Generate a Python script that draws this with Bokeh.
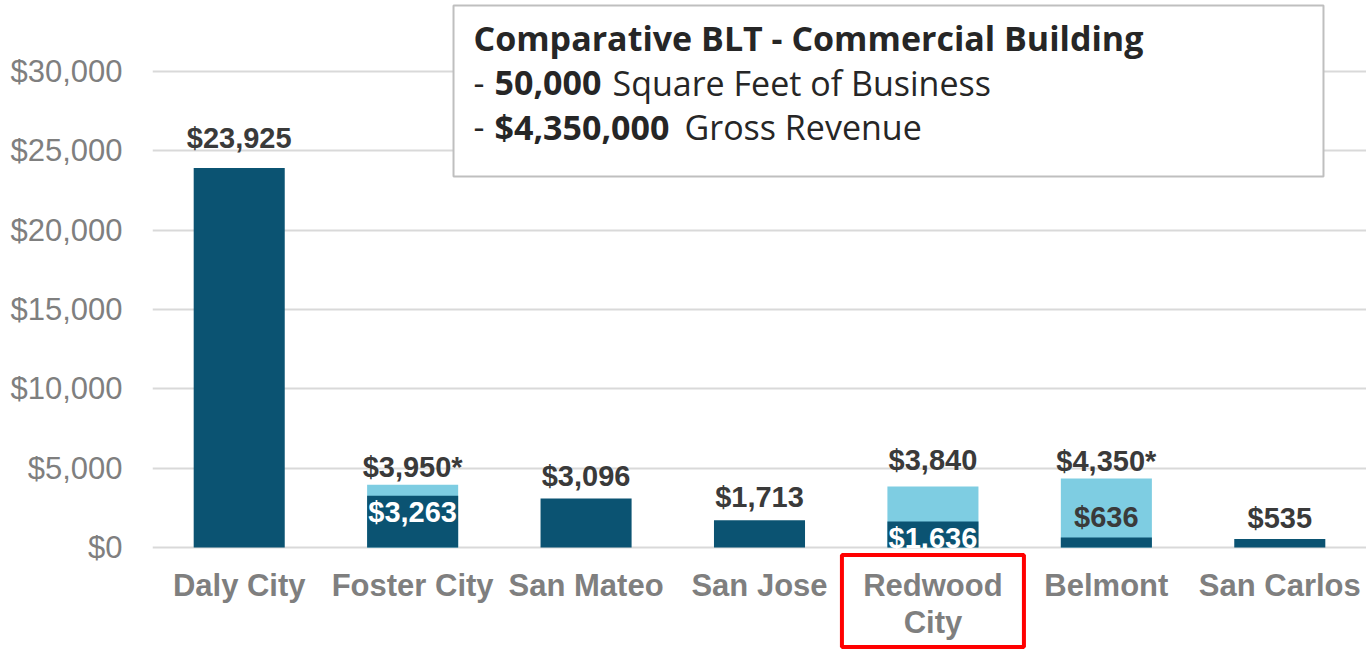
import math
from bokeh.plotting import figure
from bokeh.models import FactorRange, Range1d, FixedTicker, NumeralTickFormatter, ColumnDataSource
from bokeh.embed import file_html
from bokeh.resources import INLINE
from bokeh.core.properties import value

# ---------------- data ----------------
cities = ["Daly City", "Foster City", "San Mateo", "San Jose", "Redwood City", "Belmont", "San Carlos"]
city_labels = ["Daly City", "Foster City", "San Mateo", "San Jose", "Redwood\nCity", "Belmont", "San Carlos"]
base_tax = [23925, 3263, 3096, 1713, 1636, 636, 535]
total_tax = [math.nan, 3950, math.nan, math.nan, 3840, 4350, math.nan]
estimated = [False, True, False, False, False, True, False]
highlight_city = "Redwood City"
y_ticks = [0, 5000, 10000, 15000, 20000, 25000, 30000]

title_text = "Comparative BLT - Commercial Building"
area_sqft = "50,000"
area_text = "Square Feet of Business"
gross_revenue = "$4,350,000"
revenue_text = "Gross Revenue"

# ---------------- styles / layout ----------------
DARK = "#0b5372"
LIGHT = "#7ecde2"
GRID = "#d9d9d9"
AXIS_TXT = "#7f7f7f"
VAL_TXT = "#3a3a3a"
BOX_TXT = "#262626"
W, H = 1366, 651
LEFT = 152
PX = 79.33 / 5000                    # pixels per data unit
Y_START, Y_END = -104 / PX, 547 / PX
top_lift = [30, 18, 22, 23, 27, 17, 21]  # label centre above bar top (px)

p = figure(width=W, height=H, x_range=FactorRange(factors=cities),
           y_range=Range1d(Y_START, Y_END), output_backend="svg",
           toolbar_location=None, min_border_left=LEFT, min_border_right=0,
           min_border_top=0, min_border_bottom=0)
p.outline_line_color = None
p.background_fill_color = "white"
p.border_fill_color = "white"

p.xaxis.visible = False
p.xgrid.grid_line_color = None
p.yaxis.ticker = FixedTicker(ticks=y_ticks)
p.ygrid.ticker = FixedTicker(ticks=y_ticks)
p.ygrid.grid_line_color = GRID
p.ygrid.grid_line_width = 2
p.yaxis.formatter = NumeralTickFormatter(format="$0,0")
p.yaxis.axis_line_color = None
p.yaxis.major_tick_line_color = None
p.yaxis.minor_tick_line_color = None
p.yaxis.major_tick_out = 0
p.yaxis.major_label_standoff = 30
p.yaxis.major_label_text_font = "Liberation Sans"
p.yaxis.major_label_text_font_size = "31px"
p.yaxis.major_label_text_color = AXIS_TXT

# bars
src = ColumnDataSource(dict(city=cities, base=base_tax, total=total_tax))
p.vbar(x="city", top="total", bottom=0, width=0.525, source=src,
       fill_color=LIGHT, line_color=None)
p.vbar(x="city", top="base", bottom=0, width=0.525, source=src,
       fill_color=DARK, line_color=None)

# top value labels
tops, ttext = [], []
for b, t, e in zip(base_tax, total_tax, estimated):
    v = b if math.isnan(t) else t
    tops.append(v)
    ttext.append(f"${v:,.0f}" + ("*" if e else ""))
p.text(x=cities, y=tops, text=ttext, y_offset=[-l for l in top_lift],
       text_align="center", text_baseline="middle",
       text_font=value("Liberation Sans"), text_font_style="bold",
       text_font_size="29px", text_color=VAL_TXT)

# inner labels for overlapping bars
ix, iy, itext, ioff, icol = [], [], [], [], []
for c, b, t in zip(cities, base_tax, total_tax):
    if math.isnan(t):
        continue
    ix.append(c); iy.append(b); itext.append(f"${b:,.0f}")
    if b / t > 0.3:
        ioff.append(16); icol.append("white")
    else:
        ioff.append(-20); icol.append(VAL_TXT)
p.text(x=ix, y=iy, text=itext, y_offset=ioff, text_color=icol,
       text_align="center", text_baseline="middle",
       text_font=value("Liberation Sans"), text_font_style="bold",
       text_font_size="29px")

# category labels
p.text(x=cities, y=[0] * len(cities), text=city_labels, y_offset=20,
       text_align="center", text_baseline="top", text_line_height=1.06,
       text_font=value("Liberation Sans"), text_font_style="bold",
       text_font_size="31px", text_color=AXIS_TXT)

# highlight box
p.rect(x=[highlight_city], y=[-53.5 / PX], width=182, height=92,
       width_units="screen", height_units="screen",
       fill_color=None, line_color="#ff0000", line_width=4)

# info box
BOX_L, BOX_R = 1.7357, 6.752
BOX_B = (547 - 176) / PX
BOX_T = Y_END - 5 / PX
p.quad(left=[BOX_L], right=[BOX_R], bottom=[BOX_B], top=[BOX_T],
       fill_color="white", line_color="#bfbfbf", line_width=2)

F = value("Open Sans")
FS = "34px"
p.text(x=[BOX_L], y=[BOX_B], text=[title_text], x_offset=20, y_offset=-139,
       text_baseline="alphabetic", text_font=F, text_font_style="bold",
       text_font_size=FS, text_color=BOX_TXT)
p.text(x=[BOX_L, BOX_L], y=[BOX_B, BOX_B], text=["-", "-"], x_offset=20,
       y_offset=[-94, -50], text_baseline="alphabetic", text_font=F,
       text_font_size=FS, text_color=BOX_TXT)
p.text(x=[BOX_L, BOX_L], y=[BOX_B, BOX_B], text=[area_sqft, gross_revenue], x_offset=41,
       y_offset=[-94, -50], text_baseline="alphabetic", text_font=F, text_font_style="bold",
       text_font_size=FS, text_color=BOX_TXT)
p.text(x=[BOX_L, BOX_L], y=[BOX_B, BOX_B], text=[area_text, revenue_text],
       x_offset=[159, 231], y_offset=[-94, -50], text_baseline="alphabetic", text_font=F,
       text_font_size=FS, text_color=BOX_TXT)

open("out.html", "w").write(file_html(p, INLINE))
